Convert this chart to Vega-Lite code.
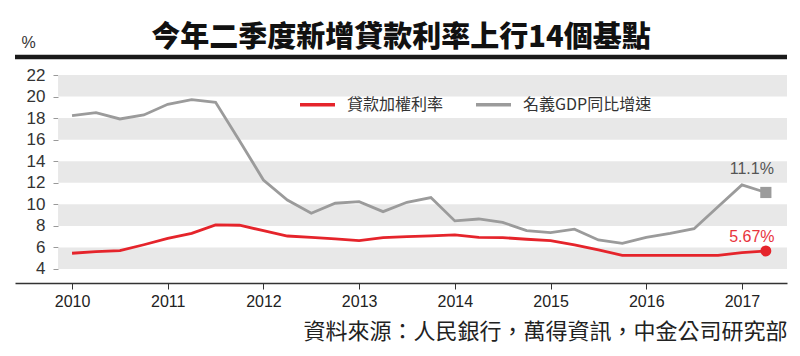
{
  "$schema": "https://vega.github.io/schema/vega-lite/v6.json",
  "width": 772,
  "height": 208,
  "autosize": {"type": "none"},
  "padding": {"left": 15, "top": 75, "right": 13, "bottom": 73},
  "background": "#ffffff",
  "title": {"text": "今年二季度新增貸款利率上行14個基點", "font": "Noto Sans CJK TC", "fontSize": 29, "fontWeight": 900, "color": "#111111", "anchor": "middle", "baseline": "middle", "offset": -33},
  "config": {
    "view": {"stroke": null},
    "axisX": {"domainColor": "#333333", "domainWidth": 1.5, "tickColor": "#333333", "tickSize": 6, "labelFont": "Liberation Sans", "labelFontSize": 16, "labelColor": "#222222", "labelPadding": 4, "grid": false, "titleFont": "Noto Sans CJK TC", "titleFontSize": 22, "titleFontWeight": "normal", "titleColor": "#222222", "titleAnchor": "end", "titlePadding": 12},
    "axisY": {"domain": false, "tickColor": "#999999", "tickSize": 5, "labelFont": "Liberation Sans", "labelFontSize": 17, "labelColor": "#333333", "labelPadding": 8, "labelOverlap": false, "labelBound": false, "grid": false, "offset": -43, "titleFont": "Liberation Sans", "titleFontSize": 16, "titleFontWeight": "normal", "titleColor": "#333333", "titleAngle": 0, "titleAlign": "center", "titleBaseline": "middle", "titleX": -30, "titleY": -33}
  },
  "datasets": {
    "bands": [
      {"lo": 4, "hi": 6}, {"lo": 8, "hi": 10}, {"lo": 12, "hi": 14}, {"lo": 16, "hi": 18}, {"lo": 20, "hi": 22}
    ],
    "rates": [
      {"series": "名義GDP同比增速", "t": 2010.00, "v": 18.23},
      {"series": "名義GDP同比增速", "t": 2010.25, "v": 18.5},
      {"series": "名義GDP同比增速", "t": 2010.50, "v": 17.92},
      {"series": "名義GDP同比增速", "t": 2010.75, "v": 18.29},
      {"series": "名義GDP同比增速", "t": 2011.00, "v": 19.28},
      {"series": "名義GDP同比增速", "t": 2011.25, "v": 19.71},
      {"series": "名義GDP同比增速", "t": 2011.50, "v": 19.47},
      {"series": "名義GDP同比增速", "t": 2011.75, "v": 15.9},
      {"series": "名義GDP同比增速", "t": 2012.00, "v": 12.26},
      {"series": "名義GDP同比增速", "t": 2012.25, "v": 10.4},
      {"series": "名義GDP同比增速", "t": 2012.50, "v": 9.17},
      {"series": "名義GDP同比增速", "t": 2012.75, "v": 10.1},
      {"series": "名義GDP同比增速", "t": 2013.00, "v": 10.25},
      {"series": "名義GDP同比增速", "t": 2013.25, "v": 9.32},
      {"series": "名義GDP同比增速", "t": 2013.50, "v": 10.19},
      {"series": "名義GDP同比增速", "t": 2013.75, "v": 10.63},
      {"series": "名義GDP同比增速", "t": 2014.00, "v": 8.46},
      {"series": "名義GDP同比增速", "t": 2014.25, "v": 8.64},
      {"series": "名義GDP同比增速", "t": 2014.50, "v": 8.33},
      {"series": "名義GDP同比增速", "t": 2014.75, "v": 7.56},
      {"series": "名義GDP同比增速", "t": 2015.00, "v": 7.37},
      {"series": "名義GDP同比增速", "t": 2015.25, "v": 7.69},
      {"series": "名義GDP同比增速", "t": 2015.50, "v": 6.69},
      {"series": "名義GDP同比增速", "t": 2015.75, "v": 6.38},
      {"series": "名義GDP同比增速", "t": 2016.00, "v": 6.94},
      {"series": "名義GDP同比增速", "t": 2016.25, "v": 7.31},
      {"series": "名義GDP同比增速", "t": 2016.50, "v": 7.74},
      {"series": "名義GDP同比增速", "t": 2016.75, "v": 9.78},
      {"series": "名義GDP同比增速", "t": 2017.00, "v": 11.8},
      {"series": "名義GDP同比增速", "t": 2017.25, "v": 11.1},
      {"series": "貸款加權利率", "t": 2010.00, "v": 5.46},
      {"series": "貸款加權利率", "t": 2010.25, "v": 5.61},
      {"series": "貸款加權利率", "t": 2010.50, "v": 5.70},
      {"series": "貸款加權利率", "t": 2010.75, "v": 6.25},
      {"series": "貸款加權利率", "t": 2011.00, "v": 6.85},
      {"series": "貸款加權利率", "t": 2011.25, "v": 7.31},
      {"series": "貸款加權利率", "t": 2011.50, "v": 8.09},
      {"series": "貸款加權利率", "t": 2011.75, "v": 8.06},
      {"series": "貸款加權利率", "t": 2012.00, "v": 7.56},
      {"series": "貸款加權利率", "t": 2012.25, "v": 7.06},
      {"series": "貸款加權利率", "t": 2012.50, "v": 6.94},
      {"series": "貸款加權利率", "t": 2012.75, "v": 6.79},
      {"series": "貸款加權利率", "t": 2013.00, "v": 6.63},
      {"series": "貸款加權利率", "t": 2013.25, "v": 6.91},
      {"series": "貸款加權利率", "t": 2013.50, "v": 7.0},
      {"series": "貸款加權利率", "t": 2013.75, "v": 7.08},
      {"series": "貸款加權利率", "t": 2014.00, "v": 7.16},
      {"series": "貸款加權利率", "t": 2014.25, "v": 6.94},
      {"series": "貸款加權利率", "t": 2014.50, "v": 6.91},
      {"series": "貸款加權利率", "t": 2014.75, "v": 6.76},
      {"series": "貸款加權利率", "t": 2015.00, "v": 6.63},
      {"series": "貸款加權利率", "t": 2015.25, "v": 6.23},
      {"series": "貸款加權利率", "t": 2015.50, "v": 5.77},
      {"series": "貸款加權利率", "t": 2015.75, "v": 5.27},
      {"series": "貸款加權利率", "t": 2016.00, "v": 5.27},
      {"series": "貸款加權利率", "t": 2016.25, "v": 5.27},
      {"series": "貸款加權利率", "t": 2016.50, "v": 5.27},
      {"series": "貸款加權利率", "t": 2016.75, "v": 5.27},
      {"series": "貸款加權利率", "t": 2017.00, "v": 5.52},
      {"series": "貸款加權利率", "t": 2017.25, "v": 5.67}
    ],
    "ends": [
      {"series": "名義GDP同比增速", "t": 2017.25, "v": 11.1, "label": "11.1%"},
      {"series": "貸款加權利率", "t": 2017.25, "v": 5.67, "label": "5.67%"}
    ]
  },
  "layer": [
    {
      "data": {"name": "bands"},
      "mark": {"type": "rect", "color": "#e8e8e8"},
      "encoding": {
        "x": {"datum": 2009.854, "type": "quantitative", "scale": {"domain": [2009.404, 2017.471], "nice": false, "zero": false}, "title": "資料來源：人民銀行，萬得資訊，中金公司研究部", "axis": {"values": [2010, 2011, 2012, 2013, 2014, 2015, 2016, 2017], "format": "d"}},
        "x2": {"datum": 2017.471},
        "y": {"field": "lo", "type": "quantitative", "scale": {"domain": [2.7, 22], "nice": false, "zero": false}, "title": "%", "axis": {"values": [4, 6, 8, 10, 12, 14, 16, 18, 20, 22]}},
        "y2": {"field": "hi"}
      }
    },
    {
      "data": {"values": [{}]},
      "mark": {"type": "rule", "color": "#1a1a1a", "strokeWidth": 4.5},
      "encoding": {
        "x": {"datum": 2009.404, "type": "quantitative", "scale": {"domain": [2009.404, 2017.471], "nice": false, "zero": false}, "title": "資料來源：人民銀行，萬得資訊，中金公司研究部", "axis": {"values": [2010, 2011, 2012, 2013, 2014, 2015, 2016, 2017], "format": "d"}},
        "x2": {"datum": 2017.471},
        "y": {"datum": 23.67, "type": "quantitative", "scale": {"domain": [2.7, 22], "nice": false, "zero": false}, "title": "%", "axis": {"values": [4, 6, 8, 10, 12, 14, 16, 18, 20, 22]}}
      }
    },
    {
      "data": {"name": "rates"},
      "mark": {"type": "line", "strokeWidth": 2.8},
      "encoding": {
        "x": {"field": "t", "type": "quantitative", "scale": {"domain": [2009.404, 2017.471], "nice": false, "zero": false}, "title": "資料來源：人民銀行，萬得資訊，中金公司研究部", "axis": {"values": [2010, 2011, 2012, 2013, 2014, 2015, 2016, 2017], "format": "d"}},
        "y": {"field": "v", "type": "quantitative", "scale": {"domain": [2.7, 22], "nice": false, "zero": false}, "title": "%", "axis": {"values": [4, 6, 8, 10, 12, 14, 16, 18, 20, 22]}},
        "color": {"field": "series", "type": "nominal", "scale": {"domain": ["貸款加權利率", "名義GDP同比增速"], "range": ["#e5242b", "#9b9b9b"]},
          "legend": {"orient": "none", "legendX": 283, "legendY": 10, "direction": "horizontal", "title": null, "symbolType": "stroke", "symbolSize": 1225, "symbolStrokeWidth": 3.5, "labelFont": "Noto Sans CJK TC", "labelFontSize": 16, "labelColor": "#333333", "labelOffset": 10, "columnPadding": 25, "padding": 0}}
      }
    },
    {
      "data": {"name": "ends"},
      "transform": [{"filter": "datum.series == '貸款加權利率'"}],
      "mark": {"type": "point", "shape": "circle", "filled": true, "size": 120, "color": "#e5242b", "opacity": 1},
      "encoding": {
        "x": {"field": "t", "type": "quantitative", "scale": {"domain": [2009.404, 2017.471], "nice": false, "zero": false}, "title": "資料來源：人民銀行，萬得資訊，中金公司研究部", "axis": {"values": [2010, 2011, 2012, 2013, 2014, 2015, 2016, 2017], "format": "d"}},
        "y": {"field": "v", "type": "quantitative", "scale": {"domain": [2.7, 22], "nice": false, "zero": false}, "title": "%", "axis": {"values": [4, 6, 8, 10, 12, 14, 16, 18, 20, 22]}}
      }
    },
    {
      "data": {"name": "ends"},
      "transform": [{"filter": "datum.series == '名義GDP同比增速'"}],
      "mark": {"type": "point", "shape": "square", "filled": true, "size": 125, "color": "#9b9b9b", "opacity": 1},
      "encoding": {
        "x": {"field": "t", "type": "quantitative", "scale": {"domain": [2009.404, 2017.471], "nice": false, "zero": false}, "title": "資料來源：人民銀行，萬得資訊，中金公司研究部", "axis": {"values": [2010, 2011, 2012, 2013, 2014, 2015, 2016, 2017], "format": "d"}},
        "y": {"field": "v", "type": "quantitative", "scale": {"domain": [2.7, 22], "nice": false, "zero": false}, "title": "%", "axis": {"values": [4, 6, 8, 10, 12, 14, 16, 18, 20, 22]}}
      }
    },
    {
      "data": {"name": "ends"},
      "transform": [{"filter": "datum.series == '名義GDP同比增速'"}],
      "mark": {"type": "text", "font": "Liberation Sans", "fontSize": 16, "color": "#555555", "dx": -14, "dy": -23, "baseline": "middle"},
      "encoding": {
        "x": {"field": "t", "type": "quantitative", "scale": {"domain": [2009.404, 2017.471], "nice": false, "zero": false}, "title": "資料來源：人民銀行，萬得資訊，中金公司研究部", "axis": {"values": [2010, 2011, 2012, 2013, 2014, 2015, 2016, 2017], "format": "d"}},
        "y": {"field": "v", "type": "quantitative", "scale": {"domain": [2.7, 22], "nice": false, "zero": false}, "title": "%", "axis": {"values": [4, 6, 8, 10, 12, 14, 16, 18, 20, 22]}},
        "text": {"field": "label"}
      }
    },
    {
      "data": {"name": "ends"},
      "transform": [{"filter": "datum.series == '貸款加權利率'"}],
      "mark": {"type": "text", "font": "Liberation Sans", "fontSize": 16, "color": "#e8343c", "dx": -14, "dy": -14, "baseline": "middle"},
      "encoding": {
        "x": {"field": "t", "type": "quantitative", "scale": {"domain": [2009.404, 2017.471], "nice": false, "zero": false}, "title": "資料來源：人民銀行，萬得資訊，中金公司研究部", "axis": {"values": [2010, 2011, 2012, 2013, 2014, 2015, 2016, 2017], "format": "d"}},
        "y": {"field": "v", "type": "quantitative", "scale": {"domain": [2.7, 22], "nice": false, "zero": false}, "title": "%", "axis": {"values": [4, 6, 8, 10, 12, 14, 16, 18, 20, 22]}},
        "text": {"field": "label"}
      }
    }
  ]
}
